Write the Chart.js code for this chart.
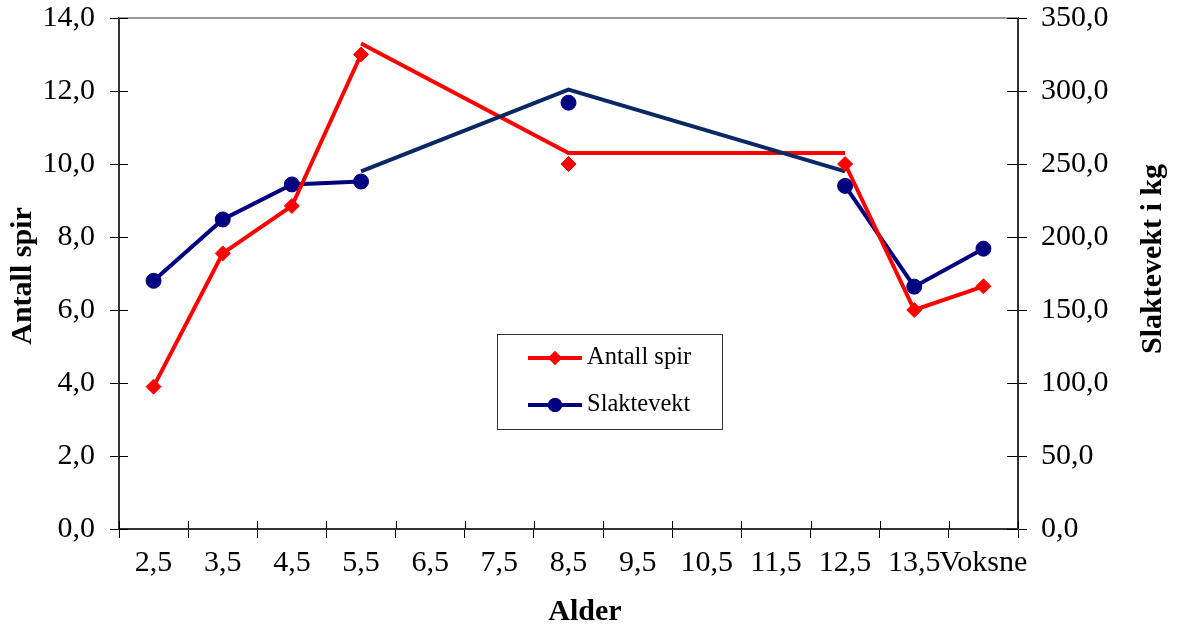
<!DOCTYPE html>
<html>
<head>
<meta charset="utf-8">
<script src="https://cdn.jsdelivr.net/npm/chart.js@4/dist/chart.umd.min.js"></script>
<style>
  html, body { margin: 0; padding: 0; background: #fff; }
  #wrap { width: 1178px; height: 628px; position: relative; }
</style>
</head>
<body>
<div id="wrap"><canvas id="chart"></canvas></div>
<script>
// Age groups on the x axis
const ageLabels = ['2,5', '3,5', '4,5', '5,5', '6,5', '7,5', '8,5', '9,5', '10,5', '11,5', '12,5', '13,5', 'Voksne'];

// Number of antler tines (left axis)
const antallSpir = [3.9, 7.55, 8.85, 13.0, null, null, 10.0, null, null, null, 10.0, 6.0, 6.65];
// Carcass weight in kg (right axis)
const slaktevekt = [170, 212, 236, 238, null, null, 292, null, null, null, 235, 166, 192];

// Connector lines drawn across the middle age groups
const antallSpirLinje = [null, null, null, 13.3, null, null, 10.3, null, null, null, 10.3, null, null];
const slaktevektLinje = [null, null, null, 245, null, null, 301, null, null, null, 245, null, null];

// Axis ranges
const leftAxis = { min: 0, max: 14, step: 2 };
const rightAxis = { min: 0, max: 350, step: 50 };

const SERIF = '"Liberation Serif", "Times New Roman", serif';
const RED = '#FF0000';
const NAVY = '#000080';
const fmt = v => Number(v).toFixed(1).replace('.', ',');

const framePlugin = {
  id: 'frame',
  beforeDatasetsDraw(chart) {
    const { ctx, chartArea: ca, scales } = chart;
    ctx.save();
    // top border of the plot area
    ctx.strokeStyle = '#999';
    ctx.lineWidth = 2;
    ctx.beginPath();
    ctx.moveTo(ca.left, ca.top);
    ctx.lineTo(ca.right, ca.top);
    ctx.stroke();

    // inner halves of the crossing tick marks
    ctx.strokeStyle = '#000';
    ctx.lineWidth = 1;
    const x = scales.x;
    const band = x.getPixelForValue(1) - x.getPixelForValue(0);
    ctx.beginPath();
    for (let i = 0; i <= ageLabels.length; i++) {
      const px = Math.round(x.getPixelForValue(0) - band / 2 + i * band) + 0.5;
      ctx.moveTo(px, ca.bottom);
      ctx.lineTo(px, ca.bottom - 8);
    }
    scales.y.ticks.forEach(t => {
      const py = Math.round(scales.y.getPixelForValue(t.value)) + 0.5;
      ctx.moveTo(ca.left, py);
      ctx.lineTo(ca.left + 9, py);
    });
    scales.y1.ticks.forEach(t => {
      const py = Math.round(scales.y1.getPixelForValue(t.value)) + 0.5;
      ctx.moveTo(ca.right, py);
      ctx.lineTo(ca.right - 11, py);
    });
    ctx.stroke();
    ctx.restore();
  },
  afterDraw(chart) {
    const { ctx } = chart;
    ctx.save();
    // axis titles
    ctx.fillStyle = '#000';
    ctx.font = 'bold 30px ' + SERIF;
    ctx.textAlign = 'center';
    ctx.textBaseline = 'middle';
    ctx.fillText('Alder', 585, 612);

    ctx.save();
    ctx.translate(23, 276);
    ctx.rotate(-Math.PI / 2);
    ctx.fillText('Antall spir', 0, 0);
    ctx.restore();

    ctx.save();
    ctx.translate(1153, 259);
    ctx.rotate(-Math.PI / 2);
    ctx.fillText('Slaktevekt i kg', 0, 0);
    ctx.restore();

    // legend box
    const box = { left: 497, top: 334, width: 225, height: 95 };
    ctx.fillStyle = '#fff';
    ctx.fillRect(box.left, box.top, box.width, box.height);
    ctx.strokeStyle = '#333';
    ctx.lineWidth = 1;
    ctx.strokeRect(box.left + 0.5, box.top + 0.5, box.width, box.height);

    const items = [0, 1].map(i => chart.data.datasets[i]);
    items.forEach((ds, i) => {
      const y = box.top + 24 + i * 47;
      ctx.strokeStyle = ds.borderColor;
      ctx.lineWidth = 4;
      ctx.beginPath();
      ctx.moveTo(box.left + 31, y);
      ctx.lineTo(box.left + 85, y);
      ctx.stroke();
      ctx.fillStyle = ds.borderColor;
      Chart.helpers.drawPoint(ctx, {
        pointStyle: ds.pointStyle,
        radius: 7,
        borderWidth: 0,
        rotation: 0
      }, box.left + 58, y);
      ctx.fill();
      ctx.fillStyle = '#000';
      ctx.font = '24.5px ' + SERIF;
      ctx.textAlign = 'left';
      ctx.textBaseline = 'middle';
      ctx.fillText(ds.label, box.left + 90, y);
    });
    ctx.restore();
  }
};

const tickFont = { family: SERIF, size: 30 };
// vertical axes keep a fixed width and add no extra top/bottom padding
const fixVertical = width => s => { s.width = width; s.paddingTop = 0; s.paddingBottom = 0; };

new Chart(document.getElementById('chart'), {
  type: 'line',
  data: {
    labels: ageLabels,
    datasets: [
      {
        label: 'Antall spir', data: antallSpir, yAxisID: 'y', order: 0,
        borderColor: RED, backgroundColor: RED, borderWidth: 4, tension: 0,
        pointStyle: 'rectRot', pointRadius: 7.5, pointBorderWidth: 1,
        pointBackgroundColor: RED, pointBorderColor: RED, spanGaps: false
      },
      {
        label: 'Slaktevekt', data: slaktevekt, yAxisID: 'y1', order: 1,
        borderColor: NAVY, backgroundColor: NAVY, borderWidth: 4, tension: 0,
        pointStyle: 'circle', pointRadius: 7.5, pointBorderWidth: 1,
        pointBackgroundColor: NAVY, pointBorderColor: NAVY, spanGaps: false
      },
      {
        label: 'Slaktevekt linje', data: slaktevektLinje, yAxisID: 'y1', order: 2,
        borderColor: '#0a2864', borderWidth: 4, tension: 0, pointRadius: 0, spanGaps: true
      },
      {
        label: 'Antall spir linje', data: antallSpirLinje, yAxisID: 'y', order: 3,
        borderColor: RED, borderWidth: 4, tension: 0, pointRadius: 0, spanGaps: true
      }
    ]
  },
  options: {
    responsive: true,
    maintainAspectRatio: false,
    animation: false,
    events: [],
    layout: { padding: { top: 18, left: 0, right: 0, bottom: 0 } },
    plugins: { legend: { display: false }, tooltip: { enabled: false } },
    scales: {
      x: {
        offset: true,
        grid: { offset: true, drawOnChartArea: false, drawTicks: true, tickLength: 9, color: '#000', lineWidth: 1 },
        border: { display: true, color: '#333', width: 2 },
        ticks: { font: tickFont, color: '#000', padding: 7, maxRotation: 0, autoSkip: false },
        afterFit(s) { s.height = 99; s.paddingLeft = 0; s.paddingRight = 0; }
      },
      y: {
        position: 'left', min: leftAxis.min, max: leftAxis.max,
        grid: { drawOnChartArea: false, drawTicks: true, tickLength: 9, color: '#000', lineWidth: 1 },
        border: { display: true, color: '#333', width: 2 },
        ticks: { stepSize: leftAxis.step, font: tickFont, color: '#000', padding: 15, callback: fmt },
        afterFit: fixVertical(119)
      },
      y1: {
        position: 'right', min: rightAxis.min, max: rightAxis.max,
        grid: { drawOnChartArea: false, drawTicks: true, tickLength: 9, color: '#000', lineWidth: 1 },
        border: { display: true, color: '#333', width: 2 },
        ticks: { stepSize: rightAxis.step, font: tickFont, color: '#000', padding: 14, callback: fmt },
        afterFit: fixVertical(160)
      }
    }
  },
  plugins: [framePlugin]
});
</script>
</body>
</html>
